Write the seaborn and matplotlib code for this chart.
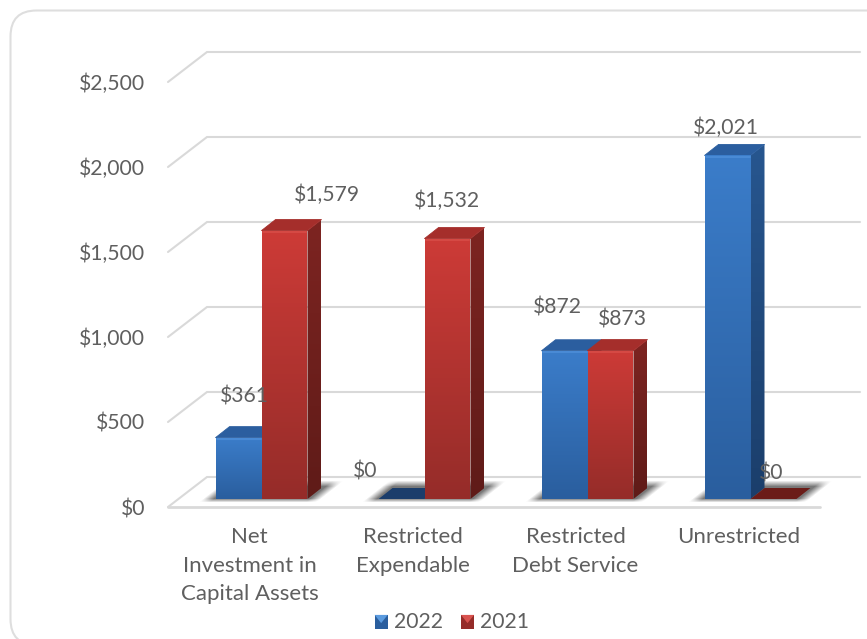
import numpy as np
import pandas as pd
import seaborn as sns
import matplotlib.pyplot as plt
from matplotlib.colors import to_rgb
from matplotlib.lines import Line2D
from matplotlib.patches import FancyBboxPatch, Polygon, Rectangle
from matplotlib.legend_handler import HandlerBase
from matplotlib.transforms import Affine2D, IdentityTransform

categories = ["Net\nInvestment in\nCapital Assets", "Restricted\nExpendable",
              "Restricted\nDebt Service", "Unrestricted"]
years = ["2022", "2021"]
values_2022 = [361, 0, 872, 2021]
values_2021 = [1579, 1532, 873, 0]
y_ticks = [0, 500, 1000, 1500, 2000, 2500]
y_tick_labels = ["$0", "$500", "$1,000", "$1,500", "$2,000", "$2,500"]

W, H = 867, 639
GRID = "#d9d9d9"
TEXT = "#5f5f5f"
DEPTH = (14, 11)
FONT = "Lato"
FS = 15.2

# colours per series: front top, front bottom, side top, side bottom, top face, flat face, highlight
COLORS = {
    "2022": ("#3b7dca", "#2a5e9e", "#27568f", "#1b3e6b", "#2b5e9f", "#1b3d6b", "#4a8bd6"),
    "2021": ("#cd3b37", "#952c29", "#7d2421", "#5f1b18", "#a52e2b", "#6b1c18", "#d64a45"),
}

# hand placed data labels, pixels from top centre of the bar
LABEL_NUDGE = {
    "2022": [(6, 41), (-36, 28), (-7, 43), (-2, 28)],
    "2021": [(42, 36), (-1, 38), (12, 31), (-2, 25)],
}

ident = IdentityTransform()


def paint(ax, verts, top, bottom, z):
    xs = [v[0] for v in verts]
    ys = [v[1] for v in verts]
    t = np.linspace(0, 1, 256)[:, None, None]
    arr = (1 - t) * np.array(to_rgb(top))[None, None, :] + t * np.array(to_rgb(bottom))[None, None, :]
    im = ax.imshow(arr, extent=(min(xs), max(xs), min(ys), max(ys)), origin="upper",
                   transform=ident, aspect="auto", zorder=z, interpolation="nearest")
    im.set_clip_box(ax.figure.bbox)
    im.set_clip_path(Polygon(verts, closed=True, transform=ident))


def soft(a, width):
    return np.clip(a / width, 0, 1)


def shadow(ax, x0, x1, y0, z):
    left, right = x0 - 13, x1 + 13
    top_d = DEPTH[1] + 7
    xs = np.arange(left - 4, right + top_d * 2 + 4)
    ys = np.arange(y0 + top_d + 2, y0 - 6, -1)
    xx, yy = np.meshgrid(xs, ys)
    d = yy - y0
    u = xx - d * DEPTH[0] / DEPTH[1]
    alpha = soft(u - left, 11) * soft(right - u, 11) * soft(d + 4, 4) * soft(top_d - d, 6) * 0.75
    arr = np.dstack([np.full(alpha.shape, 0.3)] * 3 + [alpha])
    im = ax.imshow(arr, extent=(xs[0], xs[-1] + 1, ys[-1], ys[0] + 1), origin="upper",
                   transform=ident, aspect="auto", zorder=z, interpolation="bilinear")
    im.set_clip_box(ax.figure.bbox)


class IconHandler(HandlerBase):
    def create_artists(self, legend, orig, xd, yd, width, height, fontsize, trans):
        base = Rectangle((xd, yd), width, height, facecolor=orig.get_facecolor(),
                         edgecolor="none", transform=trans)
        tri = Polygon([(xd, yd + height), (xd + width, yd + height), (xd + width / 2, yd + height * 0.4)],
                      closed=True, facecolor=orig.get_edgecolor(), edgecolor="none", transform=trans)
        return [base, tri]


sns.set_theme(style="white")
plt.rcParams["font.family"] = [FONT, "DejaVu Sans"]

df = pd.DataFrame({
    "category": categories * 2,
    "year": [years[0]] * 4 + [years[1]] * 4,
    "value": values_2022 + values_2021,
})

fig = plt.figure(figsize=(W / 100, H / 100), dpi=100, facecolor="white")
ax = fig.add_axes([180 / W, (H - 499) / H, 652 / W, 425 / H])
ax.patch.set_visible(False)

# rounded card behind the chart, runs off the right and bottom edge
fig.add_artist(FancyBboxPatch((10.5, -6), 950, H + 6 - 10.5, boxstyle="round,pad=0,rounding_size=26",
                              fill=False, edgecolor="#dedede", linewidth=1.5, transform=ident, zorder=0))

sns.barplot(data=df, x="category", y="value", hue="year", hue_order=years,
            palette=[COLORS[y][0] for y in years], width=0.564, saturation=1,
            legend=False, ax=ax)
ax.set_xlim(-0.5, 3.5)
ax.set_ylim(0, 2500)
ax.set_autoscale_on(False)
ax.set_xlabel("")
ax.set_ylabel("")
sns.despine(ax=ax, left=True, bottom=True)

# walls and floor
for v in y_ticks:
    fx, fy = ax.transData.transform((-0.5, v)) + np.array((-12, -8))
    bx, by = fx + 39, fy + 30
    ax.add_line(Line2D([fx, bx, bx + 653], [fy, by, by], color=GRID, lw=1.5, transform=ident,
                       zorder=1, clip_on=False, solid_joinstyle="miter"))
fx, fy = ax.transData.transform((-0.5, 0)) + np.array((-12, -8))
ax.add_line(Line2D([fx, fx + 652], [fy, fy], color=GRID, lw=2, transform=ident, zorder=1, clip_on=False))

# turn every seaborn bar into a box
bars = []
for year, cont in zip(years, ax.containers):
    for i, patch in enumerate(cont.patches):
        bars.append((year, i, patch))

for i in range(len(categories)):
    group = [b[2] for b in bars if b[1] == i]
    x0 = ax.transData.transform((min(p.get_x() for p in group), 0))
    x1 = ax.transData.transform((max(p.get_x() + p.get_width() for p in group), 0))
    shadow(ax, x0[0], x1[0], x0[1], 2)

dx, dy = DEPTH
z = 3
for year, i, patch in sorted(bars, key=lambda b: b[2].get_x()):
    (l, b) = ax.transData.transform((patch.get_x(), 0))
    (r, t) = ax.transData.transform((patch.get_x() + patch.get_width(), patch.get_height()))
    front_t, front_b, side_t, side_b, top_c, flat_c, hi_c = COLORS[year]
    patch.set_visible(False)
    if t - b < 1:
        ax.add_patch(Polygon([(l, b), (r, b), (r + dx, b + dy), (l + dx, b + dy)], closed=True,
                             facecolor=flat_c, edgecolor="none", transform=ident, zorder=z, clip_on=False))
        z += 1
        continue
    paint(ax, [(r, b), (r + dx, b + dy), (r + dx, t + dy), (r, t)], side_t, side_b, z)
    ax.add_patch(Polygon([(l, t), (r, t), (r + dx, t + dy), (l + dx, t + dy)], closed=True,
                         facecolor=top_c, edgecolor=top_c, lw=0.6, joinstyle="round",
                         transform=ident, zorder=z + 0.1))
    paint(ax, [(l, b), (r, b), (r, t), (l, t)], front_t, front_b, z + 0.2)
    # small bevel along the top edge of the front face
    ax.add_line(Line2D([l + 1, r - 1], [t - 1.5, t - 1.5], color=hi_c, lw=1.4, transform=ident, zorder=z + 0.3))
    z += 1

# data labels
for year, cont, vals in zip(years, ax.containers, [values_2022, values_2021]):
    for patch, val, nudge in zip(cont.patches, vals, LABEL_NUDGE[year]):
        ax.annotate(f"${val:,}", xy=(patch.get_x() + patch.get_width() / 2, patch.get_height()),
                    xytext=nudge, textcoords="offset pixels", ha="center", va="center",
                    fontsize=FS, color=TEXT, zorder=50, annotation_clip=False)

# axis labels sit on the front of the floor, not on the bar plane
ax.set_yticks(y_ticks, y_tick_labels)
ax.tick_params(axis="y", length=0, pad=25, labelsize=FS, labelcolor=TEXT)
ax.tick_params(axis="x", length=0, pad=20, labelsize=16, labelcolor=TEXT)
for lab in ax.get_yticklabels():
    lab.set_transform(lab.get_transform() + Affine2D().translate(0, -8))
for lab in ax.get_xticklabels():
    lab.set_linespacing(1.55)
    lab.set_transform(lab.get_transform() + Affine2D().translate(-12, 0))

handles = [Rectangle((0, 0), 1, 1, facecolor=COLORS[y][1], edgecolor=c) for y, c in zip(years, ["#5b9bdf", "#d9534f"])]
leg = fig.legend(handles, years, ncol=2, frameon=False, loc="center", bbox_to_anchor=(452 / W, (H - 622) / H),
                 handler_map={Rectangle: IconHandler()}, handlelength=0.62, handleheight=0.62,
                 handletextpad=0.3, columnspacing=0.85, labelcolor=TEXT, prop={"size": FS})

fig.savefig("out.png", dpi=100)
